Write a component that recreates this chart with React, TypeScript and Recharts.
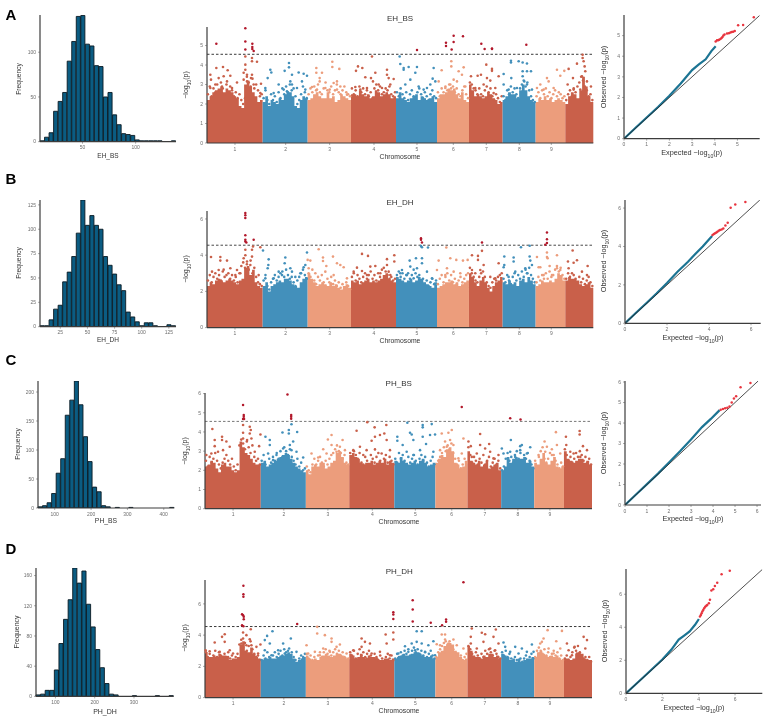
import React from 'react';
import { Area, Bar, BarChart, ComposedChart, Line, ReferenceLine, Scatter, XAxis, YAxis } from 'recharts';

// histogram counts, 30 bins each
const histA = [1, 5, 10, 34, 45, 55, 90, 112, 140, 141, 109, 107, 85, 84, 50, 55, 30, 19, 9, 8, 7, 2, 1, 1, 1, 1, 1, 0, 0, 1];
const histB = [1, 1, 7, 18, 22, 46, 56, 72, 96, 130, 104, 114, 104, 100, 72, 63, 54, 43, 37, 15, 10, 5, 1, 4, 4, 1, 0, 0, 2, 1];
const histC = [2, 4, 9, 25, 60, 85, 160, 186, 219, 178, 123, 80, 36, 28, 4, 2, 0, 1, 0, 0, 1, 0, 0, 0, 0, 0, 0, 0, 0, 1];
const histD = [2, 3, 8, 8, 35, 70, 102, 128, 170, 150, 166, 122, 92, 62, 38, 17, 3, 2, 0, 0, 0, 1, 0, 0, 0, 0, 1, 0, 0, 1];

// chromosome layout, in genome bins
const chromEdges = [0, 167, 302, 432, 567, 690, 786, 887, 986, 1075, 1159];
const chromTicks = [84, 236, 368, 501, 630, 739, 838, 937, 1033];
const chromColors = ['#c9604a', '#4390bb', '#ec9d7c', '#c9604a', '#4390bb', '#ec9d7c', '#c9604a', '#4390bb', '#ec9d7c', '#c9604a'];

// solid part of each manhattan plot, upper edge per chromosome
const bodyA = [
  [2.2, 2.4, 2.6, 2.7, 2.8, 2.9, 2.6, 2.8, 2.7, 2.6, 2.4, 2.3, 1.9, 1.8, 3.0, 3.2, 2.9, 2.6, 2.4, 2.1, 2.2],
  [2.1, 2.4, 1.9, 2.2, 2.1, 2.0, 2.3, 2.2, 2.5, 2.6, 2.6, 2.4, 1.9, 1.8, 2.2, 2.4, 2.3],
  [2.2, 2.3, 2.5, 2.6, 2.4, 2.3, 2.3, 2.6, 2.3, 2.4, 2.1, 2.2, 2.5, 2.4, 2.3, 2.2],
  [2.5, 2.5, 2.4, 2.7, 2.5, 2.4, 2.5, 2.3, 2.4, 2.7, 2.6, 2.4, 2.5, 2.6, 2.5, 2.3, 2.4],
  [2.3, 2.6, 2.3, 2.2, 2.1, 2.3, 2.4, 2.5, 2.2, 2.4, 2.3, 2.2, 2.3, 2.4, 2.1],
  [2.3, 2.5, 2.5, 2.6, 2.8, 2.7, 2.8, 2.5, 2.3, 2.6, 2.2, 2.1],
  [3.0, 2.7, 2.4, 2.5, 2.4, 2.3, 2.4, 2.6, 2.5, 2.3, 2.2, 2.0, 2.1],
  [2.2, 2.4, 2.6, 2.5, 2.5, 2.3, 2.7, 3.0, 2.7, 2.4, 2.2, 2.1],
  [2.1, 2.3, 2.2, 2.4, 2.2, 2.3, 2.1, 2.2, 2.3, 2.2, 2.1],
  [2.0, 2.4, 2.6, 2.5, 2.3, 2.7, 3.4, 2.9, 2.4, 2.1],
];
const bodyB = [
  [2.3, 2.5, 2.4, 2.6, 2.7, 2.6, 2.5, 2.6, 2.7, 2.6, 2.5, 2.4, 2.6, 2.7, 3.3, 3.4, 2.9, 3.2, 2.5, 2.3, 2.2],
  [2.3, 2.5, 2.0, 2.3, 2.4, 2.5, 2.6, 2.5, 2.7, 2.7, 2.6, 2.4, 2.3, 2.2, 2.5, 2.7, 2.8],
  [3.0, 2.7, 2.5, 2.3, 2.4, 2.5, 2.4, 2.3, 2.5, 2.3, 2.4, 2.2, 2.1, 2.3, 2.4, 2.2],
  [2.6, 2.5, 2.6, 2.4, 2.5, 2.6, 2.7, 2.5, 2.6, 2.5, 2.6, 2.7, 2.9, 3.0, 2.7, 2.6, 2.5],
  [2.8, 2.7, 2.6, 2.5, 2.6, 2.7, 2.5, 2.6, 2.8, 2.7, 2.5, 2.4, 2.3, 2.2, 2.5],
  [2.2, 2.3, 2.4, 2.5, 2.5, 2.6, 2.4, 2.5, 2.3, 2.4, 2.5, 2.6],
  [3.0, 2.8, 2.5, 2.3, 2.6, 2.8, 2.5, 2.2, 2.0, 2.3, 2.5, 2.6, 2.8],
  [2.5, 2.4, 2.6, 2.4, 2.5, 2.3, 2.6, 2.7, 2.5, 2.8, 2.6, 2.4],
  [2.3, 2.4, 2.6, 2.5, 2.5, 2.6, 2.5, 2.7, 3.0, 2.9, 2.6],
  [2.6, 2.8, 2.7, 2.7, 2.6, 2.4, 2.3, 2.4, 2.5, 2.2],
];
const bodyC = [
  [2.2, 2.3, 2.5, 2.4, 2.1, 1.9, 2.3, 2.4, 2.2, 2.2, 2.0, 1.9, 2.0, 3.5, 3.2, 2.9, 2.8, 2.6, 2.4, 2.3, 2.3],
  [2.4, 2.5, 2.2, 2.3, 2.4, 2.5, 2.6, 2.7, 2.8, 2.9, 2.8, 2.6, 2.4, 2.2, 2.1, 2.0, 1.9],
  [2.0, 1.8, 2.2, 2.3, 2.2, 2.4, 2.4, 2.1, 2.2, 2.4, 2.5, 2.9, 3.0, 2.7, 2.4, 2.3],
  [2.8, 2.9, 2.7, 2.6, 2.4, 2.3, 2.4, 2.4, 2.5, 2.3, 2.4, 2.5, 2.4, 2.6, 2.3, 2.5, 2.4],
  [2.5, 2.4, 2.7, 2.5, 2.4, 2.3, 2.4, 2.5, 2.3, 2.5, 2.6, 2.4, 2.2, 2.3, 2.4],
  [2.4, 2.6, 2.8, 2.7, 3.1, 3.2, 3.0, 2.4, 2.3, 2.1, 2.2, 2.5],
  [3.0, 2.5, 2.4, 2.3, 2.5, 2.2, 2.3, 2.5, 2.1, 2.2, 2.3, 2.4, 2.0],
  [2.0, 2.2, 2.7, 2.4, 2.6, 2.7, 2.6, 2.6, 2.7, 2.4, 2.5, 2.2],
  [2.4, 2.3, 2.6, 2.9, 2.4, 2.3, 2.5, 2.7, 2.2, 2.1, 2.2],
  [3.0, 2.6, 2.5, 2.4, 2.5, 2.6, 2.6, 2.4, 2.5, 2.3],
];
const bodyD = [
  [2.9, 2.6, 2.6, 2.7, 2.6, 2.8, 2.7, 2.7, 2.6, 2.4, 2.5, 2.5, 2.6, 3.4, 3.6, 3.0, 2.9, 3.2, 2.8, 2.6, 2.5],
  [2.4, 2.5, 2.5, 2.6, 2.5, 2.5, 2.6, 2.7, 2.7, 2.8, 2.9, 2.8, 2.5, 2.3, 2.4, 2.5, 2.6],
  [2.7, 2.5, 2.4, 2.5, 2.4, 2.6, 2.7, 2.8, 2.7, 2.6, 2.7, 2.8, 2.8, 2.7, 2.6, 2.5],
  [2.8, 2.7, 2.5, 2.6, 2.8, 2.6, 2.5, 2.7, 2.6, 2.6, 2.5, 2.4, 2.4, 2.5, 2.5, 2.4, 2.5],
  [2.5, 2.6, 2.7, 2.8, 2.7, 2.7, 2.8, 2.9, 2.9, 2.8, 2.7, 2.6, 2.6, 2.7, 2.5],
  [2.6, 2.9, 3.0, 3.3, 3.4, 3.5, 3.4, 3.0, 2.9, 2.6, 2.4, 2.5],
  [3.3, 3.0, 2.7, 2.6, 2.6, 2.5, 2.7, 2.6, 2.8, 2.8, 2.6, 2.7, 2.5],
  [2.8, 2.7, 2.6, 2.4, 2.5, 2.3, 2.5, 2.3, 2.4, 2.5, 2.5, 2.6],
  [2.6, 2.9, 3.0, 2.8, 2.7, 2.6, 2.7, 2.6, 2.7, 2.5, 2.4],
  [2.5, 2.5, 2.4, 2.5, 2.8, 2.9, 2.8, 2.5, 2.4, 2.4],
];

// markers that crowd the top of the solid part, one list per chromosome
const crowdA = [
  [2.5, 2.9, 2.4, 2.8, 2.6, 3.0, 2.7, 3.1, 2.8, 2.5, 3.0, 2.6, 2.9, 2.7, 2.4, 2.6, 2.3, 2.5, 2.2, 2.0, 2.3, 3.4, 3.1, 2.9, 3.3, 2.8, 3.0, 2.7, 2.4, 2.5],
  [2.3, 2.7, 2.2, 2.0, 2.5, 2.2, 2.4, 2.1, 2.6, 2.3, 2.8, 2.5, 2.9, 2.6, 3.0, 2.7, 2.8, 2.4, 2.0, 2.2, 2.5, 2.9, 2.6, 2.3],
  [2.5, 2.8, 2.6, 2.9, 2.7, 3.0, 2.6, 2.5, 2.8, 3.1, 2.7, 2.6, 2.9, 2.5, 2.7, 3.0, 2.6, 2.5, 2.7, 2.9, 2.6, 2.5, 2.4],
  [2.8, 2.5, 2.7, 2.4, 2.9, 2.6, 2.8, 2.5, 2.7, 2.4, 2.6, 2.3, 2.8, 3.0, 2.7, 2.9, 2.5, 2.6, 2.8, 2.7, 2.9, 2.5, 2.4, 2.6],
  [2.6, 2.4, 2.8, 2.5, 2.3, 2.6, 2.2, 2.5, 2.7, 2.4, 2.3, 2.6, 2.8, 2.5, 2.3, 2.6, 2.4, 2.2, 2.5, 2.7, 2.4, 2.3],
  [2.6, 2.4, 2.8, 2.6, 2.9, 2.7, 3.0, 2.8, 2.9, 2.6, 2.8, 2.5, 2.4, 2.7, 2.9, 2.5, 2.3],
  [3.1, 3.0, 2.8, 2.7, 2.5, 2.8, 2.5, 2.4, 2.7, 2.9, 2.6, 2.8, 2.4, 2.2, 2.5, 2.3, 2.1, 2.4],
  [2.4, 2.2, 2.7, 2.5, 2.9, 2.6, 2.8, 2.5, 2.3, 2.8, 3.0, 3.2, 2.9, 3.1, 2.7, 2.4, 2.2, 2.1],
  [2.4, 2.6, 2.3, 2.7, 2.5, 2.8, 2.4, 2.6, 2.3, 2.5, 2.7, 2.4, 2.6, 2.5, 2.3, 2.4],
  [2.2, 2.5, 2.7, 2.4, 2.8, 2.6, 2.9, 3.1, 3.4, 3.2, 2.9, 2.7, 2.4, 2.5, 2.2],
];
const crowdB = [
  [2.6, 2.9, 2.5, 2.8, 3.0, 2.7, 2.9, 2.6, 3.1, 2.8, 2.9, 3.0, 2.7, 2.9, 2.6, 2.8, 2.5, 3.0, 3.4, 3.6, 3.3, 3.5, 3.2, 3.7, 3.0, 3.3, 2.8, 2.5, 2.4, 2.3],
  [2.6, 2.9, 2.3, 2.1, 2.5, 2.7, 2.9, 2.6, 2.8, 3.0, 3.1, 2.8, 3.2, 2.9, 2.7, 2.8, 2.5, 2.3, 2.6, 2.8, 3.0, 3.2, 2.9, 2.7],
  [3.0, 2.8, 3.2, 2.6, 2.4, 2.8, 2.6, 2.9, 2.5, 2.3, 2.7, 2.5, 2.8, 2.4, 2.6, 2.3, 2.5, 2.2, 2.4, 2.2, 2.5, 2.3, 2.1],
  [2.8, 3.0, 2.6, 2.9, 2.7, 2.5, 2.8, 3.0, 2.7, 2.9, 3.1, 2.7, 2.9, 2.6, 3.0, 2.8, 3.2, 3.3, 3.1, 2.9, 2.7, 2.8, 2.6, 2.7],
  [2.9, 3.1, 2.8, 3.0, 2.7, 2.9, 3.0, 2.7, 2.9, 3.2, 3.0, 2.8, 2.9, 2.6, 2.7, 2.4, 2.6, 2.3, 2.5, 2.7, 2.4, 2.6],
  [2.4, 2.7, 2.9, 2.5, 2.8, 3.0, 2.6, 2.9, 2.5, 2.7, 2.4, 2.6, 2.8, 2.5, 2.7, 2.9, 3.0],
  [3.3, 3.0, 2.8, 2.6, 2.5, 2.8, 3.0, 3.1, 2.8, 2.5, 2.3, 2.2, 2.5, 2.7, 2.6, 2.8, 2.9, 3.0],
  [2.7, 2.5, 2.9, 2.6, 2.4, 2.8, 3.0, 2.6, 2.9, 2.7, 3.1, 2.8, 3.2, 3.0, 3.3, 2.9, 2.7, 2.5],
  [2.5, 2.8, 2.6, 2.9, 2.7, 3.0, 2.7, 3.1, 2.8, 2.9, 3.2, 3.4, 3.1, 3.3, 2.9, 2.7],
  [2.7, 3.0, 2.8, 2.6, 2.9, 2.7, 2.5, 2.8, 2.5, 2.7, 2.4, 2.6, 2.8, 2.5, 2.3],
];
const crowdC = [
  [2.5, 2.2, 2.7, 2.4, 2.6, 2.9, 2.5, 2.3, 2.1, 2.4, 2.6, 2.8, 2.5, 2.3, 2.6, 2.2, 2.0, 2.3, 3.3, 3.6, 3.4, 3.1, 3.5, 3.2, 2.9, 3.3, 2.7, 2.5, 2.6, 2.3],
  [2.5, 2.8, 2.3, 2.1, 2.6, 2.4, 2.7, 2.5, 2.9, 2.6, 3.0, 2.7, 3.2, 3.0, 2.8, 3.1, 2.7, 2.5, 2.3, 2.6, 2.2, 2.4, 2.0, 2.1],
  [2.2, 2.0, 1.9, 2.3, 2.6, 2.3, 2.5, 2.7, 2.4, 2.2, 2.5, 2.3, 2.6, 2.8, 2.9, 3.1, 3.3, 3.0, 2.9, 2.6, 2.8, 2.4, 2.3],
  [2.9, 2.7, 3.0, 2.8, 2.6, 2.9, 2.4, 2.3, 2.7, 2.5, 2.3, 2.8, 2.6, 2.4, 2.7, 2.9, 2.5, 2.3, 2.6, 2.8, 2.4, 2.7, 2.5, 2.3],
  [2.6, 2.4, 2.9, 2.6, 2.8, 2.5, 2.3, 2.7, 2.4, 2.6, 2.8, 2.5, 2.3, 2.6, 2.8, 2.5, 2.7, 2.4, 2.2, 2.5, 2.7, 2.3],
  [2.2, 2.5, 2.7, 2.9, 3.2, 3.0, 3.3, 3.1, 3.4, 2.9, 2.6, 2.3, 2.5, 2.1, 2.3, 2.6, 2.4],
  [3.2, 2.8, 2.4, 2.7, 2.5, 2.3, 2.6, 2.4, 2.8, 2.3, 2.5, 2.7, 2.2, 2.4, 2.6, 2.3, 2.5, 2.1],
  [2.0, 2.2, 2.6, 2.9, 2.5, 2.7, 2.4, 2.8, 3.0, 2.6, 2.9, 2.5, 2.8, 2.6, 2.9, 2.5, 2.3, 2.1],
  [2.5, 2.2, 2.7, 3.0, 3.2, 2.6, 2.4, 2.6, 2.9, 3.1, 2.8, 2.5, 2.3, 2.1, 2.4, 2.2],
  [3.1, 2.8, 2.5, 2.7, 2.4, 2.6, 2.9, 2.7, 3.0, 2.8, 2.5, 2.7, 2.4, 2.6, 2.3],
];
const crowdD = [
  [2.9, 2.6, 2.8, 2.5, 2.7, 3.0, 2.6, 2.9, 2.7, 2.5, 2.8, 2.6, 2.9, 2.5, 2.7, 2.4, 2.6, 2.8, 3.4, 3.7, 3.2, 3.5, 3.0, 3.3, 3.6, 3.1, 2.8, 2.6, 2.7, 2.4],
  [2.4, 2.7, 2.5, 2.9, 2.6, 2.4, 2.7, 2.9, 2.6, 2.8, 3.0, 2.7, 3.1, 2.9, 3.0, 2.7, 2.9, 2.6, 2.4, 2.2, 2.5, 2.7, 2.5, 2.8],
  [2.8, 2.5, 2.7, 2.4, 2.6, 2.3, 2.7, 2.9, 2.6, 2.9, 3.1, 2.8, 3.0, 2.7, 2.9, 3.1, 2.8, 3.0, 2.7, 2.9, 2.6, 2.4, 2.5],
  [2.9, 2.7, 3.0, 2.5, 2.8, 3.1, 2.7, 2.9, 2.6, 2.8, 3.0, 2.7, 2.5, 2.8, 2.6, 2.4, 2.7, 2.5, 2.3, 2.6, 2.8, 2.5, 2.7, 2.4],
  [2.5, 2.8, 2.6, 2.9, 2.7, 3.0, 2.8, 3.1, 2.7, 3.0, 3.2, 2.9, 3.1, 2.8, 3.0, 2.7, 2.9, 2.6, 2.8, 3.0, 2.7, 2.5],
  [2.6, 2.9, 3.1, 3.3, 3.5, 3.6, 3.4, 3.6, 3.3, 3.1, 2.9, 2.7, 2.5, 2.7, 2.4, 2.6, 2.8],
  [3.3, 3.1, 2.8, 2.6, 2.9, 2.7, 2.5, 2.8, 2.6, 3.0, 2.8, 3.1, 2.9, 2.7, 3.0, 2.8, 2.6, 2.5],
  [2.9, 2.7, 3.0, 2.6, 2.8, 2.5, 2.3, 2.6, 2.4, 2.2, 2.5, 2.3, 2.5, 2.7, 2.4, 2.6, 2.8, 2.5],
  [2.6, 3.0, 3.2, 3.0, 2.8, 3.1, 2.7, 2.9, 2.6, 2.8, 3.0, 2.7, 2.9, 2.5, 2.7, 2.4],
  [2.5, 2.7, 2.4, 2.6, 2.9, 3.2, 3.0, 3.3, 2.9, 2.7, 2.5, 2.6, 2.4, 2.6, 2.3],
];

// single markers above the solid part, [bin, -log10 p]
const snpA = [
  [28,5.09],[115,5.88],[115,5.21],[115,4.79],[136,5.09],[136,4.92],[136,4.82],[140,4.72],[630,4.77],[717,5.14],[717,4.97],[734,4.79],[740,5.5],[740,5.18],[768,5.48],[823,5.09],[833,4.82],[855,4.85],[855,4.82],[958,5.04],
  [10,3.5],[28,3.85],[48,3.9],[62,3.73],[12,3.25],[35,3.33],[50,3.42],[70,3.45],[60,3.16],[25,3],[45,2.9],[90,3.1],[75,2.82],[115,4.02],[115,3.76],[110,3.6],[120,3.5],[115,4.44],[135,4.36],[135,4.19],[150,4.17],[135,3.5],[120,3.16],[132,3.33],[140,3],[162,3.04],[110,3.25],[160,2.56],[10,2.82],
  [190,3.76],[193,3.62],[246,4.1],[246,3.88],[233,3.7],[275,3.62],[290,3.55],[300,3.45],[255,3.5],[250,3.16],[255,3],[182,3.33],[175,2.82],[215,3],[230,2.74],[270,2.82],[285,3.16],[295,2.74],[200,2.56],[240,2.65],
  [328,3.85],[328,3.6],[345,3.6],[338,3.33],[338,3.16],[376,4.17],[376,3.9],[397,3.8],[390,3.16],[380,3.08],[400,2.9],[315,2.87],[330,2.74],[355,2.82],[368,2.74],[390,2.74],[420,2.48],
  [495,4.44],[453,3.93],[466,3.85],[447,3.7],[475,3.37],[492,3.33],[505,3.6],[540,3.76],[540,3.5],[560,3.28],[498,3.16],[515,3],[545,3.33],[445,2.87],[460,2.74],[480,2.82],[525,2.82],[550,3],
  [578,4.44],[580,4.05],[590,3.76],[590,3.85],[605,3.9],[630,3.9],[625,3.6],[610,3.25],[595,3],[635,2.9],[680,3.85],[677,3.3],[660,2.82],[685,3.16],[650,2.74],[670,3],
  [733,4.19],[733,3.93],[704,3.73],[770,3.88],[755,3.68],[765,3.5],[740,3.25],[695,3.16],[750,3.16],[775,2.9],[715,2.82],[730,3],
  [838,4.02],[855,3.8],[855,3.7],[792,3.42],[812,3.45],[822,3.5],[840,3.33],[875,3.42],[850,3.2],[830,3],[805,2.82],[865,2.82],[860,2.56],
  [912,4.22],[912,4.13],[935,4.19],[947,4.13],[960,4.08],[890,3.54],[913,3.33],[947,3.68],[947,3.42],[960,3.68],[972,3.68],[952,3.16],[960,3],[890,3],[930,2.82],[905,2.74],[975,2.74],
  [1050,3.76],[1072,3.7],[990,2.82],[1020,3.33],[1060,3.45],[1025,3.16],[1000,3],[1040,2.82],[1010,2.74],
  [1127,4.53],[1127,4.36],[1130,4.19],[1133,3.93],[1085,3.8],[1110,4.07],[1135,3.68],[1098,3.33],[1125,3.42],[1140,3.16],[1152,2.9],[1082,3],[1100,2.74],[1120,2.74],
];
const snpB = [
  [115,6.33],[115,6.2],[115,6.05],[115,5.1],[115,4.85],[115,4.75],[118,4.7],[140,4.85],[642,4.93],[642,4.85],[645,4.7],[825,4.7],[1020,5.25],[1020,4.88],[1020,4.67],[1015,4.57],
  [12,3.9],[40,3.9],[40,3.7],[60,3.7],[115,4.3],[115,4],[138,4.48],[135,4.3],[160,4.44],[168,4.26],[135,3.92],[110,3.83],[120,3.65],[130,3.46],[50,3.2],[35,3.18],[70,3.28],[15,3.09],[90,3.18],[155,2.9],[85,2.9],[100,3],
  [185,3.77],[184,3.46],[182,3.28],[235,3.87],[233,3.55],[300,4.15],[302,3.74],[295,3.46],[290,3.33],[250,3.28],[215,3.09],[200,2.72],[265,2.8],[175,2.72],[280,3],[225,2.9],[255,3.09],
  [335,4.33],[348,3.87],[378,3.92],[348,3.68],[358,3.4],[390,3.55],[400,3.46],[410,3.33],[310,3.7],[325,3],[355,3.09],[380,2.9],[420,2.72],[305,3.28],
  [465,4.07],[483,3.96],[562,4],[540,3.78],[562,3.65],[505,3.4],[490,3.37],[450,3.31],[540,3.46],[440,3.09],[465,3.13],[520,3],[545,3.09],[550,2.9],[480,2.9],
  [642,4.5],[645,4.44],[663,4.42],[608,3.7],[627,3.83],[645,3.83],[645,3.55],[630,3.28],[610,3.37],[585,3.18],[580,3],[660,3.09],[690,3.18],[675,2.72],[600,2.9],[620,2.72],
  [718,4.42],[695,3.7],[730,3.83],[748,3.74],[768,3.7],[782,3.74],[720,3.28],[740,3.09],[715,2.9],[760,3],
  [825,4.24],[795,4],[813,3.96],[813,3.74],[830,3.46],[875,3.55],[890,3.33],[820,3.18],[795,3.18],[850,2.8],[865,2.72],[805,3],
  [942,4.44],[968,4.52],[892,3.93],[920,3.87],[968,3.93],[970,3.7],[975,3.46],[892,3.46],[920,3.65],[955,3.28],[925,3.09],[905,2.8],[960,3],
  [990,3.9],[1020,4.15],[1020,3.9],[1022,3.83],[1050,4],[1028,3.4],[995,3.33],[1050,3.28],[1010,2.9],[1035,2.9],[1060,3.18],[1000,3.33],
  [1097,4.26],[1083,3.65],[1110,3.72],[1100,3.58],[1142,3.4],[1125,3.09],[1085,3.28],[1140,2.9],[1095,3],
];
const snpC = [
  [114,5.4],[116,4.88],[116,4.79],[114,4.67],[117,4.67],[247,5.95],[258,4.88],[258,4.79],[258,4.69],[769,5.3],[914,4.72],[945,4.65],
  [22,4.15],[51,3.75],[51,3.58],[29,3.58],[64,3.5],[74,3.23],[29,3.26],[114,4.36],[114,3.96],[134,4.27],[137,4.1],[134,3.92],[166,3.87],[139,3.66],[126,3.58],[162,3.26],[114,3.66],[19,2.88],[39,2.97],[4,2.8],[54,3.05],[149,2.97],
  [181,3.75],[194,3.58],[232,3.97],[251,4.1],[251,3.92],[276,4],[264,3.5],[259,4.4],[254,3.32],[194,3.32],[234,3.14],[259,3.05],[189,2.88],[294,2.67],[214,2.8],[274,2.97],[204,2.53],
  [368,3.61],[379,3.84],[412,3.58],[404,3.23],[354,3.1],[379,3.32],[319,2.88],[339,2.67],[394,2.97],[419,3.05],[364,2.88],
  [454,4.06],[486,4.51],[508,4.24],[543,4.36],[524,3.84],[537,3.92],[499,3.54],[509,3.75],[544,3.58],[464,3.23],[444,3.05],[484,3.05],[509,3.09],[529,2.88],[554,3.05],[474,2.8],
  [606,4.48],[652,4.36],[652,4.24],[679,4.41],[614,3.96],[619,3.87],[576,3.75],[576,3.54],[592,3.32],[624,3.58],[652,3.75],[674,3.84],[689,3.87],[662,3.37],[684,2.97],[644,3.05],[604,2.97],[624,2.8],
  [739,4.1],[729,3.96],[709,3.92],[774,3.66],[719,3.5],[734,3.58],[744,3.32],[724,3.23],[704,3.05],[769,2.88],[759,2.62],
  [824,3.89],[796,3.26],[824,3.32],[851,3.37],[839,3.14],[879,2.8],[789,3.5],[814,2.88],[864,2.62],[799,2.7],[854,2.97],
  [916,3.58],[944,3.26],[944,3.05],[949,3.32],[974,3.2],[889,3.14],[914,2.97],[894,2.88],[929,2.7],[964,2.88],
  [1051,3.99],[1017,3.5],[1024,3.23],[1054,3.32],[999,2.8],[1039,2.8],[1064,2.88],[1019,2.97],
  [1081,3.75],[1122,4.05],[1122,3.87],[1132,3.26],[1082,3.32],[1144,3.05],[1104,2.88],[1124,2.7],[1094,2.97],
];
const snpD = [
  [115,7.16],[115,6.62],[115,6.45],[111,5.34],[114,5.28],[116,5.17],[116,5.02],[111,4.64],[115,4.57],[276,4.72],[564,5.47],[564,5.32],[564,5.04],[622,6.24],[622,5.64],[622,4.87],[676,4.79],[710,4.64],[722,5],[722,4.85],[774,7.39],
  [59,4.06],[51,3.89],[29,3.53],[59,3.57],[74,3.03],[14,2.97],[44,2.93],[114,4.17],[124,4],[137,4.38],[114,3.78],[134,3.74],[109,3.46],[139,3.35],[166,3.4],[154,3.25],[124,3.35],[84,2.82],[2,3.03],[69,2.6],[159,2.82],
  [202,4.25],[186,3.95],[179,3.68],[194,3.46],[257,3.78],[234,3.46],[304,3.35],[179,3.03],[219,3.03],[252,3.14],[274,2.93],[199,2.71],[294,2.6],[239,2.82],
  [336,4.53],[336,4.1],[359,4],[379,3.78],[379,3.57],[404,3.4],[354,3.14],[309,2.82],[329,2.93],[374,2.93],[424,2.82],[394,3.25],[344,2.71],
  [564,4.17],[541,4.04],[469,3.78],[479,3.57],[564,3.72],[544,3.46],[494,3.46],[469,3.25],[444,3.03],[499,2.82],[524,2.93],[554,2.71],[484,2.5],[514,2.5],
  [634,4.25],[649,4.25],[634,3.57],[649,3.46],[669,3.35],[684,3.61],[694,3.42],[599,3.29],[619,3.46],[579,2.82],[609,2.93],[659,2.93],[629,3.03],[689,2.71],
  [709,4.04],[719,4.04],[719,3.72],[744,3.72],[729,3.46],[754,3.35],[704,3.35],[774,3.14],[739,3.14],[719,2.93],
  [799,4.42],[796,3.89],[829,4.15],[839,4.06],[871,4.36],[864,3.89],[796,3.46],[834,3.57],[879,3.46],[814,3.14],[854,3.14],[869,3.03],
  [894,3.53],[899,3.25],[929,3.25],[979,3.4],[949,3.14],[964,2.93],[914,2.93],[939,2.82],[984,2.93],
  [1026,4.32],[1069,4.27],[1014,3.78],[1009,3.57],[1052,3.61],[1004,3.46],[1029,3.14],[1064,3.14],[1002,2.82],[1044,2.82],
  [1084,3.46],[1134,3.89],[1144,3.68],[1107,3.25],[1089,3.03],[1139,3.14],[1114,2.82],[1099,2.71],
];

// QQ plots, [expected, observed]
const qqLineA = [[0,0],[0.5,0.52],[1,1.03],[1.5,1.54],[2,2.08],[2.5,2.68],[3,3.33],[3.3,3.6],[3.6,3.85],[3.85,4.25],[4.04,4.48]];
const qqTopA = [[4.04,4.72],[4.1,4.77],[4.15,4.78],[4.19,4.8],[4.25,4.84],[4.3,4.88],[4.34,4.93],[4.38,5],[4.43,5.06],[4.54,5.1],[4.62,5.12],[4.69,5.15],[4.75,5.17],[4.81,5.19],[4.88,5.22],[5.03,5.5],[5.25,5.52],[5.72,5.89]];
const qqLineB = [[0,0],[0.5,0.52],[1,1.03],[1.5,1.55],[2,2.1],[2.5,2.68],[3,3.2],[3.3,3.55],[3.7,4],[4.05,4.43],[4.15,4.55]];
const qqTopB = [[4.17,4.6],[4.23,4.65],[4.29,4.69],[4.35,4.73],[4.4,4.77],[4.46,4.82],[4.52,4.86],[4.6,4.89],[4.68,4.93],[4.78,5.09],[4.89,5.23],[5.03,6.02],[5.25,6.18],[5.73,6.32]];
const qqLineC = [[0,0],[0.5,0.51],[1,1.02],[1.5,1.53],[2,2.07],[2.5,2.62],[3,3.2],[3.5,3.8],[3.9,4.2],[4.3,4.63]];
const qqTopC = [[4.35,4.65],[4.45,4.68],[4.55,4.72],[4.65,4.75],[4.75,4.8],[4.85,5],[4.95,5.2],[5.05,5.3],[5.25,5.75],[5.7,5.95]];
const qqLineD = [[0,0],[1,1.02],[1.5,1.53],[2,2.05],[2.5,2.65],[2.9,3.25],[3.2,3.5],[3.5,3.75],[3.8,4.15],[4.01,4.5]];
const qqTopD = [[4.07,4.65],[4.12,4.75],[4.16,4.85],[4.2,4.95],[4.25,5.05],[4.3,5.15],[4.36,5.25],[4.42,5.3],[4.47,5.35],[4.56,5.45],[4.62,5.66],[4.7,6.22],[4.8,6.3],[4.89,6.5],[5.02,6.69],[5.26,7.21],[5.71,7.43]];

const FONT = '"Liberation Sans", Arial, sans-serif';
const TICK = { fontSize: 5, fill: '#6e6e6e', fontFamily: FONT };
const AXIS = { stroke: '#3c3c3c', strokeWidth: 1.2 };
const THRESHOLD = 4.55;

const Txt = ({ x, y, size, rotate, children, color }: any) => (
  <div
    style={{
      position: 'absolute',
      left: x,
      top: y,
      fontFamily: FONT,
      fontSize: size,
      lineHeight: 1,
      whiteSpace: 'nowrap',
      color: color || '#333',
      transform: `translate(-50%, -50%)${rotate ? ' rotate(-90deg)' : ''}`,
    }}
  >
    {children}
  </div>
);

const LogP = () => (
  <span>
    −log<sub style={{ fontSize: '0.7em', lineHeight: 0 }}>10</sub>(p)
  </span>
);

const Dot = (p: any) => <circle cx={p.cx} cy={p.cy} r={1.3} fill={p.fill} />;
const PeakDot = (p: any) => <circle cx={p.cx} cy={p.cy} r={1.25} fill={p.fill} />;

const Hist = ({ counts, box, xDomain, xTicks, yTicks, yMax }: any) => {
  const binW = (xDomain[1] - xDomain[0]) / counts.length;
  const rows = counts.map((n: number, i: number) => ({ x: xDomain[0] + binW * (i + 0.5), n }));
  return (
    <div style={{ position: 'absolute', left: box.x - 24, top: box.y - 4 }}>
      <BarChart width={box.w + 28} height={box.h + 16} data={rows} margin={{ top: 4, right: 4, left: 0, bottom: 0 }}>
        <XAxis dataKey="x" type="number" domain={xDomain} ticks={xTicks} height={12} tick={TICK} tickSize={2} tickLine={{ stroke: '#555', strokeWidth: 0.5 }} axisLine={AXIS} interval={0} />
        <YAxis domain={[0, yMax]} ticks={yTicks} width={24} tick={TICK} tickSize={2} tickLine={{ stroke: '#555', strokeWidth: 0.5 }} axisLine={AXIS} allowDataOverflow interval={0} />
        <Bar dataKey="n" fill="#0b5c82" stroke="#0a1a22" strokeWidth={0.9} barSize={box.w / counts.length} isAnimationActive={false} />
      </BarChart>
    </div>
  );
};

const Manhattan = ({ body, crowd, snps, box, yTicks, yMax, lineColor }: any) => {
  // one row per envelope value, one key per chromosome so the areas stay apart
  const rows: any[] = [];
  body.forEach((vals: number[], c: number) => {
    const step = (chromEdges[c + 1] - chromEdges[c]) / vals.length;
    vals.forEach((v, i) => rows.push({ x: chromEdges[c] + i * step, [`c${c}`]: v }));
    rows.push({ x: chromEdges[c + 1], [`c${c}`]: vals[vals.length - 1] });
  });
  const points = snps.map((p: number[]) => ({ x: p[0], y: p[1] }));
  const low = points.filter((p: any) => p.y < THRESHOLD);
  const high = points.filter((p: any) => p.y >= THRESHOLD);
  return (
    <div style={{ position: 'absolute', left: box.x - 24, top: box.y - 4 }}>
      <ComposedChart width={box.w + 28} height={box.h + 16} data={rows} margin={{ top: 4, right: 4, left: 0, bottom: 0 }}>
        <XAxis dataKey="x" type="number" domain={[0, 1159]} ticks={chromTicks} tickFormatter={(v: number) => String(chromTicks.indexOf(v) + 1)} height={12} tick={TICK} tickSize={2} tickLine={{ stroke: '#555', strokeWidth: 0.5 }} axisLine={AXIS} interval={0} />
        <YAxis dataKey="y" type="number" domain={[0, yMax]} ticks={yTicks} width={24} tick={TICK} tickSize={2} tickLine={{ stroke: '#555', strokeWidth: 0.5 }} axisLine={AXIS} allowDataOverflow interval={0} />
        {body.map((_: number[], c: number) => (
          <Area key={c} dataKey={`c${c}`} type="stepAfter" fill={chromColors[c]} fillOpacity={1} stroke="none" dot={false} activeDot={false} isAnimationActive={false} />
        ))}
        {body.map((_: number[], c: number) => {
          const step = (chromEdges[c + 1] - chromEdges[c]) / crowd[c].length;
          const crowded = crowd[c].map((y: number, i: number) => ({ x: chromEdges[c] + (i + 0.5) * step, y }));
          const single = low.filter((p: any) => p.x >= chromEdges[c] && p.x < chromEdges[c + 1]);
          return <Scatter key={c} data={[...crowded, ...single]} fill={chromColors[c]} shape={Dot} isAnimationActive={false} />;
        })}
        <Scatter data={high} fill="#b2182b" shape={PeakDot} isAnimationActive={false} />
        <ReferenceLine y={THRESHOLD} stroke={lineColor} strokeWidth={0.9} strokeDasharray="2.5 2" />
      </ComposedChart>
    </div>
  );
};

const QQ = ({ curve, top, box, xMax, yMax, xTicks, yTicks }: any) => {
  const toRow = (p: number[]) => ({ x: p[0], y: p[1] });
  const end = Math.min(xMax, yMax);
  return (
    <div style={{ position: 'absolute', left: box.x - 24, top: box.y - 4 }}>
      <ComposedChart width={box.w + 28} height={box.h + 16} margin={{ top: 4, right: 4, left: 0, bottom: 0 }}>
        <XAxis dataKey="x" type="number" domain={[0, xMax]} ticks={xTicks} height={12} tick={TICK} tickSize={2} tickLine={{ stroke: '#555', strokeWidth: 0.5 }} axisLine={AXIS} interval={0} allowDataOverflow />
        <YAxis dataKey="y" type="number" domain={[0, yMax]} ticks={yTicks} width={24} tick={TICK} tickSize={2} tickLine={{ stroke: '#555', strokeWidth: 0.5 }} axisLine={AXIS} interval={0} allowDataOverflow />
        <Line data={curve.map(toRow)} dataKey="y" stroke="#1c7493" strokeWidth={2.2} dot={false} activeDot={false} isAnimationActive={false} />
        <Scatter data={top.map(toRow)} fill="#e8353f" shape={PeakDot} isAnimationActive={false} />
        <Line data={[{ x: 0, y: 0 }, { x: end, y: end }]} dataKey="y" stroke="#222" strokeWidth={0.8} dot={false} activeDot={false} isAnimationActive={false} />
      </ComposedChart>
    </div>
  );
};

export default function App() {
  return (
    <div style={{ position: 'absolute', left: 0, top: 0, width: 767, height: 716, background: '#fff', overflow: 'hidden', filter: 'blur(0.3px)' }}>
      <Txt x={11} y={14} size={15}><b style={{ color: '#000' }}>A</b></Txt>
      <Txt x={11} y={178} size={15}><b style={{ color: '#000' }}>B</b></Txt>
      <Txt x={11} y={359} size={15}><b style={{ color: '#000' }}>C</b></Txt>
      <Txt x={11} y={548} size={15}><b style={{ color: '#000' }}>D</b></Txt>

      <Hist counts={histA} box={{ x: 39.5, y: 15.3, w: 136, h: 126.7 }} xDomain={[10, 138]} xTicks={[50, 100]} yTicks={[0, 50, 100]} yMax={141.6} />
      <Txt x={19} y={79} size={6.7} rotate>Frequency</Txt>
      <Txt x={108} y={156} size={6.5}>EH_BS</Txt>
      <Hist counts={histB} box={{ x: 39.7, y: 200, w: 136, h: 126.7 }} xDomain={[6.3, 131.6]} xTicks={[25, 50, 75, 100, 125]} yTicks={[0, 25, 50, 75, 100, 125]} yMax={130} />
      <Txt x={19} y={263} size={6.7} rotate>Frequency</Txt>
      <Txt x={108} y={340} size={6.5}>EH_DH</Txt>
      <Hist counts={histC} box={{ x: 38, y: 381, w: 136.3, h: 127 }} xDomain={[54, 429]} xTicks={[100, 200, 300, 400]} yTicks={[0, 50, 100, 150, 200]} yMax={219} />
      <Txt x={18} y={444} size={6.7} rotate>Frequency</Txt>
      <Txt x={106} y={521} size={6.8}>PH_BS</Txt>
      <Hist counts={histD} box={{ x: 36.3, y: 568.3, w: 137.7, h: 128.4 }} xDomain={[50.6, 401]} xTicks={[100, 200, 300]} yTicks={[0, 40, 80, 120, 160]} yMax={170} />
      <Txt x={16} y={632} size={7} rotate>Frequency</Txt>
      <Txt x={105} y={711} size={7}>PH_DH</Txt>

      <Manhattan body={bodyA} crowd={crowdA} snps={snpA} box={{ x: 206.7, y: 27.3, w: 386.3, h: 116 }} yTicks={[0, 1, 2, 3, 4, 5]} yMax={5.95} lineColor="#222" />
      <Txt x={400} y={19} size={8}>EH_BS</Txt>
      <Txt x={400} y={156.5} size={6.8}>Chromosome</Txt>
      <Txt x={186} y={85} size={7} rotate><LogP /></Txt>
      <Manhattan body={bodyB} crowd={crowdB} snps={snpB} box={{ x: 206.7, y: 210.7, w: 386.3, h: 116.6 }} yTicks={[0, 2, 4, 6]} yMax={6.44} lineColor="#333" />
      <Txt x={400} y={202.7} size={8}>EH_DH</Txt>
      <Txt x={400} y={341} size={6.8}>Chromosome</Txt>
      <Txt x={186} y={269} size={7} rotate><LogP /></Txt>
      <Manhattan body={bodyC} crowd={crowdC} snps={snpC} box={{ x: 205.3, y: 393, w: 387, h: 115.7 }} yTicks={[0, 1, 2, 3, 4, 5, 6]} yMax={6.03} lineColor="#666" />
      <Txt x={398.7} y={384.3} size={8}>PH_BS</Txt>
      <Txt x={399} y={522} size={6.8}>Chromosome</Txt>
      <Txt x={185} y={451} size={7} rotate><LogP /></Txt>
      <Manhattan body={bodyD} crowd={crowdD} snps={snpD} box={{ x: 205.3, y: 579.7, w: 387, h: 117.6 }} yTicks={[0, 2, 4, 6]} yMax={7.53} lineColor="#222" />
      <Txt x={399.3} y={572.3} size={8}>PH_DH</Txt>
      <Txt x={399} y={710.7} size={6.8}>Chromosome</Txt>
      <Txt x={185} y={638} size={7} rotate><LogP /></Txt>

      <QQ curve={qqLineA} top={qqTopA} box={{ x: 624.3, y: 15.3, w: 135.7, h: 123.7 }} xMax={5.98} yMax={6} xTicks={[0, 1, 2, 3, 4, 5]} yTicks={[0, 1, 2, 3, 4, 5]} />
      <Txt x={691.7} y={153.3} size={7.3}>Expected <LogP /></Txt>
      <Txt x={604} y={77} size={7.3} rotate>Observed <LogP /></Txt>
      <QQ curve={qqLineB} top={qqTopB} box={{ x: 625, y: 200, w: 135.7, h: 123.3 }} xMax={6.46} yMax={6.42} xTicks={[0, 2, 4, 6]} yTicks={[0, 2, 4, 6]} />
      <Txt x={693} y={337.7} size={7.3}>Expected <LogP /></Txt>
      <Txt x={604} y={261} size={7.3} rotate>Observed <LogP /></Txt>
      <QQ curve={qqLineC} top={qqTopC} box={{ x: 625, y: 381, w: 136, h: 124 }} xMax={6.18} yMax={6.05} xTicks={[0, 1, 2, 3, 4, 5, 6]} yTicks={[0, 1, 2, 3, 4, 5, 6]} />
      <Txt x={693} y={518.5} size={7.3}>Expected <LogP /></Txt>
      <Txt x={604} y={443} size={7.3} rotate>Observed <LogP /></Txt>
      <QQ curve={qqLineD} top={qqTopD} box={{ x: 626, y: 569, w: 136.3, h: 124.3 }} xMax={7.5} yMax={7.53} xTicks={[0, 2, 4, 6]} yTicks={[0, 2, 4, 6]} />
      <Txt x={694} y={707.7} size={7.3}>Expected <LogP /></Txt>
      <Txt x={605} y={631} size={7.3} rotate>Observed <LogP /></Txt>
    </div>
  );
}
